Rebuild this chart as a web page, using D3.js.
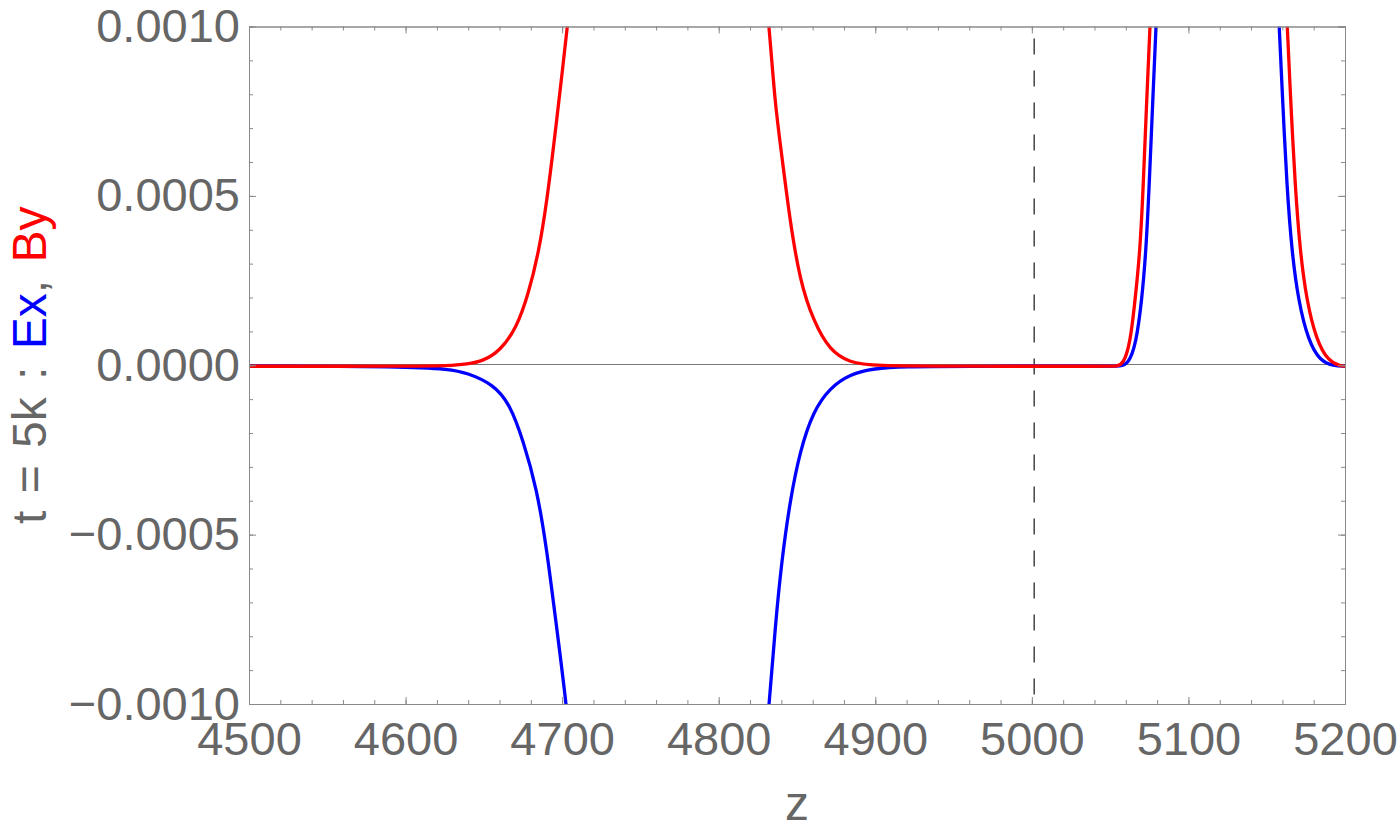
<!DOCTYPE html>
<html>
<head>
	<title></title>
	<style>
		body { margin: 0; background: #fff; }
		text { font-family: "Liberation Sans", Arial, sans-serif; }
	</style>
</head>
<body>
	<svg id="container" height="832" width="1400"></svg>
</body>
<script src="https://d3js.org/d3.v7.min.js"></script>
<script>
	// Ex (blue) and By (red) at t = 5k
	let exZ = [4500, 4600, 4628, 4639, 4656, 4666.7, 4675.2, 4683.7, 4690.1, 4696.5, 4702.8, 4708,
		4827, 4832.3, 4836, 4840.2, 4845.5, 4851.9, 4860.4, 4871.1, 4883.8, 4898.7, 4920, 4950,
		5050, 5056, 5061.6, 5066.5, 5070.2, 5072.9, 5075, 5077.2, 5079.3, 5082,
		5155, 5158, 5160.2, 5162.8, 5166, 5170.2, 5176.6, 5184.1, 5192.6, 5200]
	let exVal = [0, 0, -0.0000089, -0.000019, -0.0000533, -0.000112, -0.000221, -0.000359, -0.000536, -0.000772, -0.001, -0.00125,
		-0.00125, -0.001, -0.000772, -0.000575, -0.000398, -0.00025, -0.000132, -0.0000633, -0.0000238, -0.000006, -0.000001, 0,
		0, 0, 0.000006, 0.000065, 0.000193, 0.00034, 0.000537, 0.000783, 0.001, 0.0013,
		0.0013, 0.001, 0.000783, 0.000537, 0.00034, 0.000193, 0.0000745, 0.0000155, 0.000001, 0]

	let byZ = [4500, 4600, 4628.4, 4639, 4649.6, 4660.3, 4671, 4678.4, 4684.8, 4690.1, 4696.5, 4703.3, 4709,
		4827, 4832.3, 4836, 4840.2, 4845.5, 4851.9, 4860.4, 4871.1, 4883.8, 4898.7, 4950,
		5050, 5054.2, 5058.4, 5062.7, 5065.9, 5069.1, 5071.2, 5073.3, 5075.5, 5078,
		5160, 5163.2, 5165.3, 5168.1, 5171.3, 5175.5, 5181.9, 5189.3, 5196.7, 5200]
	let byVal = [0, 0, 0.000001, 0.000006, 0.0000155, 0.000045, 0.000114, 0.000213, 0.000331, 0.000479, 0.000724, 0.001, 0.00125,
		0.00125, 0.001, 0.000773, 0.000626, 0.000429, 0.000252, 0.000134, 0.000045, 0.0000105, 0.000001, 0,
		0, 0, 0.000006, 0.000065, 0.000193, 0.00034, 0.000537, 0.000783, 0.001, 0.0013,
		0.0013, 0.001, 0.000783, 0.000537, 0.00034, 0.000193, 0.0000745, 0.0000155, 0.000001, 0]

	let xMajor = [4500, 4600, 4700, 4800, 4900, 5000, 5100, 5200]
	let yMajor = [-0.001, -0.0005, 0, 0.0005, 0.001]
	let yLabels = ["\u22120.0010", "\u22120.0005", "0.0000", "0.0005", "0.0010"]
	let markerZ = 5001.5

	let xMinor = d3.range(4500, 5201, 20)
	let yMinor = d3.range(-10, 11).map(d => d / 10000)

	let pLeft = 249, pRight = 1345, pTop = 26.5, pBottom = 704
	let svg = d3.select("#container")
	let grey = "#666"
	let frameGrey = "#8a8a8a"

	let x = d3.scaleLinear().domain([4500, 5200]).range([pLeft, pRight])
	let y = d3.scaleLinear().domain([-0.001, 0.001]).range([pBottom, pTop])

	svg.append("defs").append("clipPath").attr("id", "clip")
		.append("rect")
		.attr("x", pLeft).attr("y", pTop)
		.attr("width", pRight - pLeft).attr("height", pBottom - pTop)

	// zero axis
	svg.append("line")
		.attr("x1", pLeft).attr("x2", pRight)
		.attr("y1", y(0) - 0.75).attr("y2", y(0) - 0.75)
		.attr("stroke", "#777")
		.attr("stroke-width", 1)

	// dashed marker
	svg.append("line")
		.attr("x1", x(markerZ)).attr("x2", x(markerZ))
		.attr("y1", pTop).attr("y2", pBottom)
		.attr("stroke", "#444")
		.attr("stroke-width", 1.5)
		.attr("stroke-dasharray", "16,16")
		.attr("stroke-dashoffset", -12)

	let line = d3.line()
		.x(d => x(d[0]))
		.y(d => y(d[1]) + 1)
		.curve(d3.curveBasis)

	let plot = svg.append("g").attr("clip-path", "url(#clip)")
	plot.append("path")
		.attr("d", line(d3.zip(exZ, exVal)))
		.attr("fill", "none")
		.attr("stroke", "#0000ff")
		.attr("stroke-width", 3.3)
	plot.append("path")
		.attr("d", line(d3.zip(byZ, byVal)))
		.attr("fill", "none")
		.attr("stroke", "#ff0000")
		.attr("stroke-width", 3.3)

	// frame ticks, pointing inwards on all four sides
	function styleAxis(g) {
		g.selectAll("path, line").attr("stroke", frameGrey).attr("stroke-width", 1)
		g.selectAll("text").attr("fill", grey).style("font-size", "47px").attr("font-family", "Liberation Sans, Arial, sans-serif")
	}

	svg.append("g").attr("transform", `translate(0,${pBottom})`)
		.call(d3.axisBottom(x).tickValues(xMinor).tickSize(-4).tickFormat(""))
		.call(styleAxis)
	svg.append("g").attr("transform", `translate(0,${pBottom})`)
		.call(d3.axisBottom(x).tickValues(xMajor).tickSizeInner(-7).tickSizeOuter(0).tickPadding(18).tickFormat(d3.format("d")))
		.call(styleAxis)
	svg.append("g").attr("transform", `translate(0,${pTop})`)
		.call(d3.axisTop(x).tickValues(xMinor).tickSize(-4).tickFormat(""))
		.call(styleAxis)
	svg.append("g").attr("transform", `translate(0,${pTop})`)
		.call(d3.axisTop(x).tickValues(xMajor).tickSize(-7).tickFormat(""))
		.call(styleAxis)

	svg.append("g").attr("transform", `translate(${pLeft},0)`)
		.call(d3.axisLeft(y).tickValues(yMinor).tickSize(-4).tickFormat(""))
		.call(styleAxis)
	svg.append("g").attr("transform", `translate(${pLeft},0)`)
		.call(d3.axisLeft(y).tickValues(yMajor).tickSizeInner(-7).tickSizeOuter(0).tickPadding(9)
			.tickFormat((d, i) => yLabels[i]))
		.call(styleAxis)
	svg.append("g").attr("transform", `translate(${pRight},0)`)
		.call(d3.axisRight(y).tickValues(yMinor).tickSize(-4).tickFormat(""))
		.call(styleAxis)
	svg.append("g").attr("transform", `translate(${pRight},0)`)
		.call(d3.axisRight(y).tickValues(yMajor).tickSize(-7).tickFormat(""))
		.call(styleAxis)

	// axis labels
	svg.append("text")
		.attr("x", (pLeft + pRight) / 2)
		.attr("y", 820)
		.attr("text-anchor", "middle")
		.attr("fill", grey)
		.style("font-size", "48px")
		.text("z")

	let ylab = svg.append("text")
		.attr("transform", `translate(46,${(pTop + pBottom) / 2}) rotate(-90)`)
		.attr("text-anchor", "middle")
		.attr("fill", grey)
		.style("font-size", "48px")
		.style("word-spacing", "4px")
	ylab.append("tspan").text("t = 5k : ")
	ylab.append("tspan").attr("fill", "#0000ff").text("Ex")
	ylab.append("tspan").text(", ")
	ylab.append("tspan").attr("fill", "#ff0000").text("By")
</script>
</html>
